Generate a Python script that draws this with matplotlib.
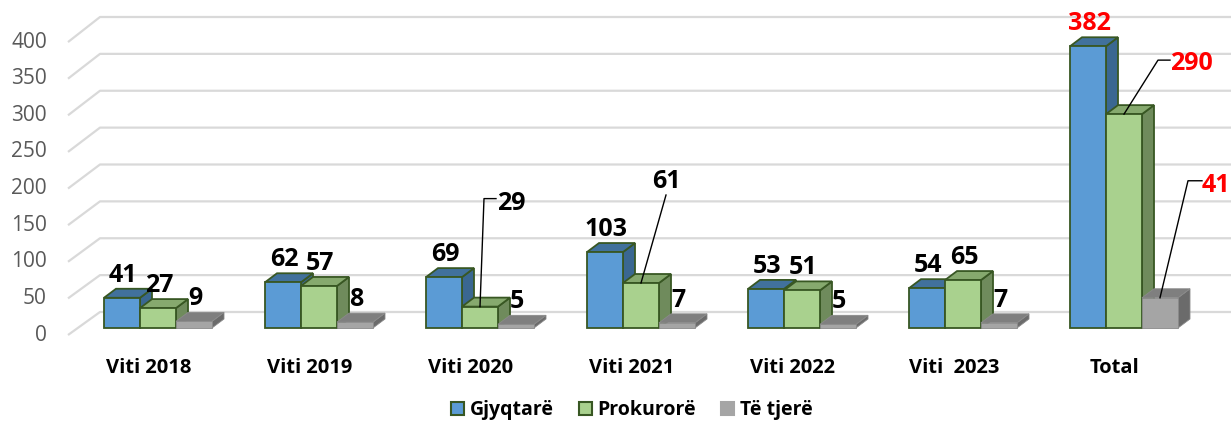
import numpy as np
import matplotlib.pyplot as plt
from matplotlib.patches import Polygon, Patch

plt.rcParams['font.family'] = ['Open Sans', 'DejaVu Sans']

categories = ['Viti 2018', 'Viti 2019', 'Viti 2020', 'Viti 2021',
              'Viti 2022', 'Viti  2023', 'Total']
gjyqtare = [41, 62, 69, 103, 53, 54, 382]
prokurore = [27, 57, 29, 61, 51, 65, 290]
te_tjere = [9, 8, 5, 7, 5, 7, 41]
series_names = ['Gjyqtarë', 'Prokurorë', 'Të tjerë']
y_ticks = [0, 50, 100, 150, 200, 250, 300, 350, 400]

# pixel scale of the layout (group spacing and value scale)
PX_X = 161.0
PX_Y = 0.7375
W, H = 1231, 424
BASE = 328  # pixel row of the bar bottoms


def dx(p):
    return p / PX_X


def dy(p):
    return p / PX_Y


fig = plt.figure(figsize=(W / 100, H / 100), dpi=100)
ax = fig.add_axes([0, 0, 1, 1])
ax.set_xlim(-158 / PX_X, (W - 158) / PX_X)
ax.set_ylim(-(H - BASE) / PX_Y, BASE / PX_Y)
ax.axis('off')

# gridlines of the 3d wall
for v in y_ticks:
    yf = v * 0.993 - 9.5
    yb = v + 21.7
    ax.plot([dx(68 - 158), dx(100 - 158), dx(W - 158)], [yf, yb, yb],
            color='#d9d9d9', lw=1.6, zorder=1, solid_capstyle='butt')
    ax.text(dx(47 - 158), yf, str(v), ha='right', va='center',
            fontsize=15, color='#595959')

styles = [
    dict(front='#5b9bd5', top='#41719c', side='#3a6791', edge='#385723'),
    dict(front='#a9d18e', top='#86a96e', side='#6f8b5c', edge='#385723'),
    dict(front='#a5a5a5', top='#7f7f7f', side='#6b6b6b', edge='#8a8a8a'),
]
offsets = [-54, -18, 18]
bw = dx(36)
ddx, ddy = dx(12), dy(9)

series = [gjyqtare, prokurore, te_tjere]
for i in range(len(categories)):
    for s, vals in enumerate(series):
        h = vals[i]
        st = styles[s]
        x0 = i + dx(offsets[s])
        x1 = x0 + bw
        lw = 1.3 if s < 2 else 0.6
        z = 3 + s
        ax.add_patch(Polygon([(x1, 0), (x1, h), (x1 + ddx, h + ddy), (x1 + ddx, ddy)],
                             closed=True, fc=st['side'], ec=st['edge'], lw=lw, zorder=z))
        ax.add_patch(Polygon([(x0, h), (x1, h), (x1 + ddx, h + ddy), (x0 + ddx, h + ddy)],
                             closed=True, fc=st['top'], ec=st['edge'], lw=lw, zorder=z))
        ax.add_patch(Polygon([(x0, 0), (x1, 0), (x1, h), (x0, h)],
                             closed=True, fc=st['front'], ec=st['edge'], lw=lw, zorder=z))

# data labels; some have leader lines (pixel offsets from bar top)
leaders = {
    (2, 1): dict(line=[(0, 0), (4, 108), (16, 108)], text=(17, 97), ha='left'),
    (3, 1): dict(line=[(0, 0), (25, 88)], text=(25, 95), ha='center'),
    (6, 1): dict(line=[(0, 0), (34, 54), (46, 54)], text=(46, 44), ha='left'),
    (6, 2): dict(line=[(0, 0), (28, 117), (42, 117)], text=(42, 106), ha='left'),
}
for i in range(len(categories)):
    color = 'red' if categories[i] == 'Total' else 'black'
    for s, vals in enumerate(series):
        h = vals[i]
        xc = i + dx(offsets[s] + 18)
        key = (i, s)
        if key in leaders:
            ld = leaders[key]
            ax.plot([xc + dx(p[0]) for p in ld['line']],
                    [h + dy(p[1]) for p in ld['line']],
                    color='black', lw=1, zorder=10)
            ax.text(xc + dx(ld['text'][0]), h + dy(ld['text'][1]), str(h),
                    ha=ld['ha'], va='baseline', fontsize=18,
                    fontweight='bold', color=color, zorder=11)
        else:
            ax.text(xc + dx(1), h + ddy + dy(7), str(h), ha='center',
                    va='baseline', fontsize=18, fontweight='bold',
                    color=color, zorder=11)

for i, c in enumerate(categories):
    ax.text(i - dx(9), dy(BASE - 373), c, ha='center', va='baseline',
            fontsize=14.5, fontweight='bold', color='black')

handles = [Patch(facecolor=styles[k]['front'],
                 edgecolor=styles[k]['edge'] if k < 2 else styles[k]['front'],
                 lw=1.5) for k in range(3)]
leg = fig.legend(handles, series_names, loc='center', ncol=3,
                 bbox_to_anchor=(632 / W, 14 / H), frameon=False,
                 fontsize=14, handlelength=0.65, handleheight=0.65,
                 handletextpad=0.3, columnspacing=1.3)
for t in leg.get_texts():
    t.set_fontweight('bold')

fig.savefig('out.png', dpi=100)
